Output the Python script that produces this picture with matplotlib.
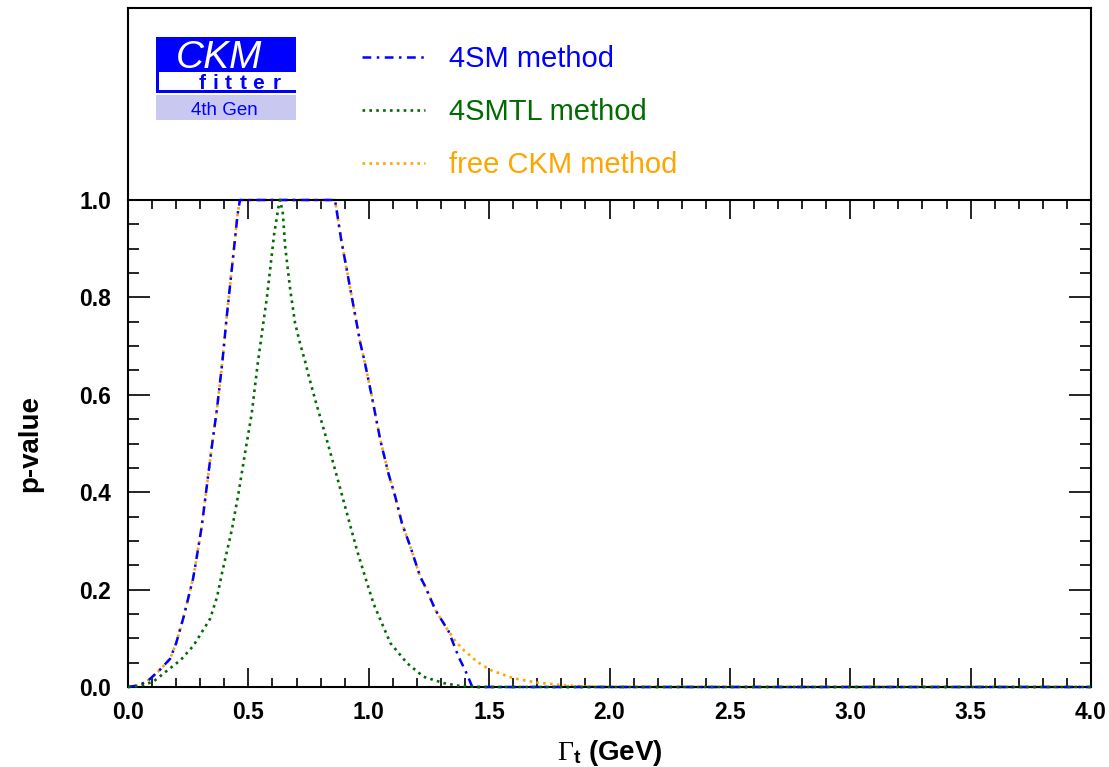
import matplotlib
matplotlib.use('Agg')
import matplotlib.pyplot as plt
from matplotlib.ticker import MultipleLocator, FormatStrFormatter
from matplotlib.patches import Rectangle

plt.rcParams['font.family'] = ['Liberation Sans', 'DejaVu Sans']
plt.rcParams['mathtext.fontset'] = 'custom'
plt.rcParams['mathtext.rm'] = 'Liberation Serif'
plt.rcParams['mathtext.it'] = 'Liberation Serif:italic'
plt.rcParams['mathtext.bf'] = 'Liberation Sans:bold'

# ---------------- data ----------------
sm4_x = [0.0, 0.05, 0.09, 0.13, 0.175, 0.2, 0.23, 0.25, 0.27, 0.28, 0.306, 0.327, 0.348,
         0.369, 0.392, 0.41, 0.438, 0.455, 0.465, 0.86, 0.885, 0.909, 0.937, 0.965, 0.983,
         1.013, 1.048, 1.082, 1.11, 1.138, 1.173, 1.214, 1.235, 1.277, 1.332, 1.373, 1.40,
         1.415, 1.43, 4.0]
sm4_y = [0.0, 0.004, 0.016, 0.034, 0.058, 0.09, 0.142, 0.182, 0.222, 0.25, 0.329, 0.411, 0.493,
         0.569, 0.668, 0.76, 0.89, 0.97, 1.0, 1.0, 0.92, 0.856, 0.781, 0.706, 0.668,
         0.596, 0.507, 0.438, 0.391, 0.336, 0.288, 0.226, 0.206, 0.158, 0.114, 0.062, 0.035,
         0.018, 0.0, 0.0]

smtl_x = [0.0, 0.05, 0.105, 0.161, 0.22, 0.272, 0.341, 0.37, 0.39, 0.431, 0.459, 0.486, 0.514,
          0.539, 0.556, 0.577, 0.59, 0.607, 0.625, 0.632, 0.643, 0.653, 0.674, 0.694, 0.715,
          0.736, 0.75, 0.778, 0.826, 0.868, 0.902, 0.951, 0.985, 1.02, 1.09, 1.159, 1.228,
          1.311, 1.38, 1.45, 4.0]
smtl_y = [0.0, 0.002, 0.011, 0.033, 0.056, 0.085, 0.14, 0.185, 0.233, 0.322, 0.398, 0.48, 0.562,
          0.665, 0.726, 0.80, 0.856, 0.93, 0.985, 1.0, 0.973, 0.904, 0.815, 0.747, 0.705,
          0.668, 0.64, 0.589, 0.507, 0.432, 0.37, 0.281, 0.226, 0.171, 0.09, 0.049, 0.021,
          0.008, 0.002, 0.0, 0.0]

free_x = [0.0, 0.05, 0.09, 0.13, 0.175, 0.2, 0.23, 0.25, 0.27, 0.28, 0.306, 0.327, 0.348,
          0.369, 0.392, 0.41, 0.438, 0.455, 0.465, 0.86, 0.885, 0.909, 0.937, 0.965, 0.983,
          1.013, 1.048, 1.082, 1.11, 1.138, 1.173, 1.214, 1.235, 1.277, 1.332, 1.36, 1.394,
          1.45, 1.505, 1.6, 1.7, 1.8, 1.9, 2.0, 4.0]
free_y = [0.0, 0.004, 0.016, 0.034, 0.058, 0.09, 0.142, 0.182, 0.222, 0.25, 0.329, 0.411, 0.493,
          0.569, 0.668, 0.76, 0.89, 0.97, 1.0, 1.0, 0.92, 0.856, 0.781, 0.706, 0.668,
          0.596, 0.507, 0.438, 0.391, 0.336, 0.288, 0.226, 0.206, 0.158, 0.114, 0.094, 0.076,
          0.052, 0.035, 0.018, 0.009, 0.004, 0.001, 0.0, 0.0]

labels = ['4SM method', '4SMTL method', 'free CKM method']
colors = ['#0000ff', '#006b00', '#ffa500']
x_label = r'$\Gamma_{\mathbf{t}}$ (GeV)'
y_label = 'p-value'

# ---------------- figure ----------------
W, H = 1109, 767
fig = plt.figure(figsize=(W / 100, H / 100), dpi=100)

def fx(x):
    return x / W

def fy(y):
    return 1 - y / H

L, R, T_top, T_main, B = 128, 1091, 8, 200, 687
ax = fig.add_axes([fx(L), fy(B), fx(R) - fx(L), fy(T_main) - fy(B)])
ax_top = fig.add_axes([fx(L), fy(T_main), fx(R) - fx(L), fy(T_top) - fy(T_main)])
ax_top.set_zorder(0)
ax.set_zorder(1)

l1, = ax.plot(sm4_x, sm4_y, color=colors[0], lw=1.8, linestyle=(0, (3.5, 2.2, 1, 2.2)),
              clip_on=False, zorder=3, label=labels[0])
l2, = ax.plot(smtl_x, smtl_y, color=colors[1], lw=1.9, linestyle=(0, (1, 1.6)),
              clip_on=False, zorder=3, label=labels[1])
l3, = ax.plot(free_x, free_y, color=colors[2], lw=1.9, linestyle=(0, (1, 1.6)),
              clip_on=False, zorder=2, label=labels[2])

ax.set_xlim(0, 4.0)
ax.set_ylim(0, 1.0)
ax.patch.set_alpha(0)
ax.xaxis.set_major_locator(MultipleLocator(0.5))
ax.xaxis.set_minor_locator(MultipleLocator(0.1))
ax.yaxis.set_major_locator(MultipleLocator(0.2))
ax.yaxis.set_minor_locator(MultipleLocator(0.05))
ax.xaxis.set_major_formatter(FormatStrFormatter('%.1f'))
ax.yaxis.set_major_formatter(FormatStrFormatter('%.1f'))
ax.tick_params(axis='both', which='both', direction='in', top=True, right=True,
               width=1.2, labelsize=16.5)
ax.tick_params(axis='x', which='major', length=14, pad=10)
ax.tick_params(axis='x', which='minor', length=6.5)
ax.tick_params(axis='y', which='major', length=15.5, pad=12)
ax.tick_params(axis='y', which='minor', length=8)
for lbl in ax.get_xticklabels() + ax.get_yticklabels():
    lbl.set_fontweight('bold')
for s in ax.spines.values():
    s.set_linewidth(1.5)

ax.set_xlabel(x_label, fontsize=20, fontweight='bold', labelpad=10)
ax.set_ylabel(y_label, fontsize=20, fontweight='bold', labelpad=26)

ax_top.set_xlim(0, 1)
ax_top.set_ylim(0, 1)
ax_top.set_xticks([])
ax_top.set_yticks([])
for s in ax_top.spines.values():
    s.set_linewidth(1.5)
ax_top.spines['bottom'].set_visible(False)

leg = ax_top.legend(handles=[l1, l2, l3], loc='upper left',
                    bbox_to_anchor=(fx(362), fy(45)), bbox_transform=fig.transFigure,
                    frameon=False, fontsize=21, handlelength=2.16, handletextpad=0.82,
                    labelspacing=0.86, borderpad=0, borderaxespad=0, labelcolor='linecolor')

# ---------------- CKMfitter logo ----------------
def rect(x0, y0, x1, y1, color):
    fig.patches.append(Rectangle((fx(x0), fy(y1)), fx(x1) - fx(x0), fy(y0) - fy(y1),
                                 transform=fig.transFigure, facecolor=color,
                                 edgecolor='none', zorder=5))

rect(156, 37, 296, 93, '#0000ff')
rect(159, 72, 296, 90, 'white')
rect(156, 95, 296, 120, '#c8c8f0')
fig.text(fx(219), fy(68), 'CKM', color='white', fontsize=28, fontstyle='italic',
         ha='center', va='baseline', zorder=6)
for ch, xc in zip('fitter', [202, 215, 228, 243, 258, 277]):
    fig.text(fx(xc), fy(89), ch, color='#0000ff', fontsize=15, fontweight='bold',
             ha='center', va='baseline', zorder=6)
fig.text(fx(224), fy(115), '4th Gen', color='#0000ff', fontsize=13.5,
         ha='center', va='baseline', zorder=6)

fig.savefig('out.png', dpi=100)
